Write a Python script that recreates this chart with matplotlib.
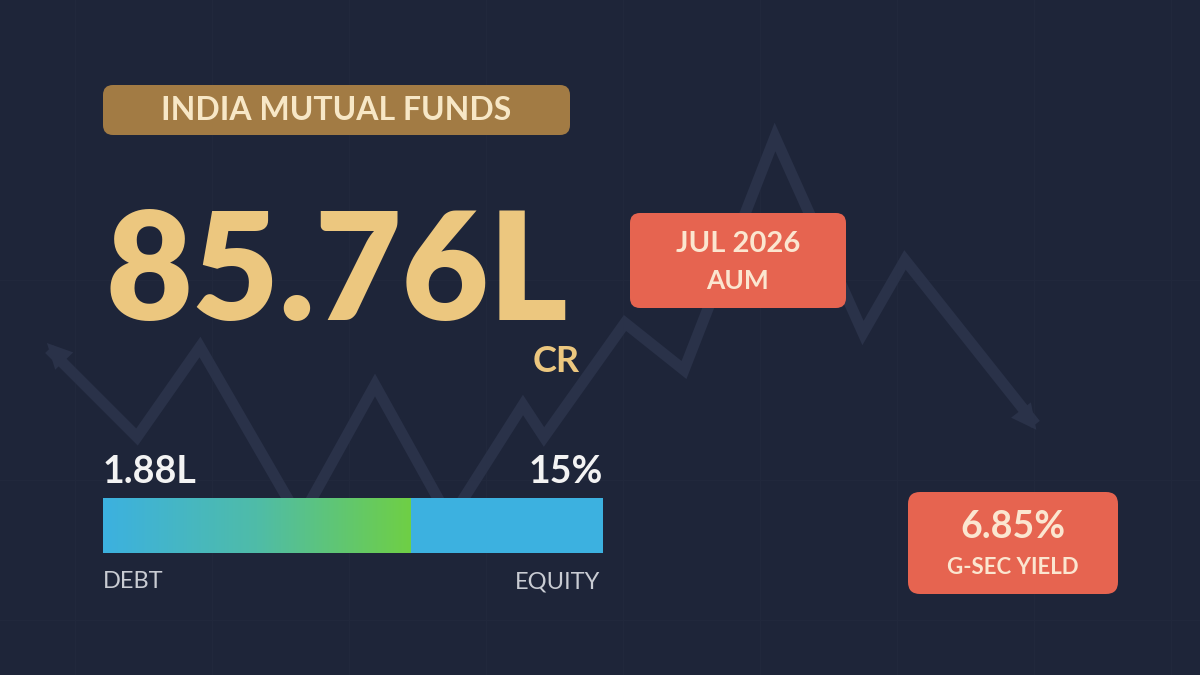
import matplotlib
matplotlib.use("Agg")
import matplotlib.pyplot as plt
import numpy as np
from matplotlib.patches import FancyBboxPatch, Rectangle
from matplotlib.colors import LinearSegmentedColormap

title = "INDIA MUTUAL FUNDS"
headline = "85.76L"
unit = "CR"
badge1 = ["JUL 2026", "AUM"]
left_val, right_val = "1.88L", "15%"
bar_labels = ["DEBT", "EQUITY"]
debt_share = 0.615
badge2 = ["6.85%", "G-SEC YIELD"]
bg_x = [53, 137, 200, 300, 375, 450, 523, 544, 625, 684, 775, 863, 905, 1032]
bg_y = [353, 437, 347, 520, 385, 520, 405, 437, 323, 370, 137, 333, 260, 420]

BG = "#1e2539"
fig = plt.figure(figsize=(12, 6.75), dpi=100)
fig.patch.set_facecolor(BG)
ax = fig.add_axes([0, 0, 1, 1])
ax.set_xlim(0, 1200); ax.set_ylim(675, 0); ax.axis("off")
ax.set_facecolor(BG)

for gx in range(75, 1200, 137):
    ax.plot([gx, gx], [0, 675], color="#21283c", lw=1, zorder=0)
for gy in [280, 480, 620]:
    ax.plot([0, 1200], [gy, gy], color="#21283c", lw=1, zorder=0)

ax.plot(bg_x, bg_y, color="#2a3249", lw=8, solid_joinstyle="miter", zorder=1)
ax.annotate("", xy=(bg_x[0] - 8, bg_y[0] - 12), xytext=(bg_x[1], bg_y[1]),
            arrowprops=dict(arrowstyle="-|>", color="#2a3249", lw=0, mutation_scale=45), zorder=1)
ax.annotate("", xy=(bg_x[-1] + 6, bg_y[-1] + 12), xytext=(bg_x[-2], bg_y[-2]),
            arrowprops=dict(arrowstyle="-|>", color="#2a3249", lw=0, mutation_scale=45), zorder=1)

FONT = ["Lato", "DejaVu Sans"]

ax.add_patch(FancyBboxPatch((103, 85), 467, 50, boxstyle="round,pad=0,rounding_size=10",
                            fc="#a27b44", ec="none", zorder=3))
ax.text(336, 111, title, color="#f7e7c6", fontsize=23, fontweight="bold",
        family=FONT, ha="center", va="center", zorder=4)

ax.text(106, 320, headline, color="#ecc77f", fontsize=108, fontweight="heavy",
        family=FONT, ha="left", va="baseline", zorder=4)
ax.text(580, 372, unit, color="#ecc77f", fontsize=26, fontweight="bold",
        family=FONT, ha="right", va="baseline", zorder=4)

ax.add_patch(FancyBboxPatch((630, 213), 216, 95, boxstyle="round,pad=0,rounding_size=10",
                            fc="#e66450", ec="none", zorder=3))
ax.text(738, 244, badge1[0], color="#fbe6d0", fontsize=21, fontweight="bold",
        family=FONT, ha="center", va="center", zorder=4)
ax.text(738, 281, badge1[1], color="#fbe6d0", fontsize=19, fontweight="bold",
        family=FONT, ha="center", va="center", zorder=4)

ax.text(103, 483, left_val, color="#f3f3f3", fontsize=27, fontweight="bold",
        family=FONT, ha="left", va="baseline", zorder=4)
ax.text(603, 483, right_val, color="#f3f3f3", fontsize=27, fontweight="bold",
        family=FONT, ha="right", va="baseline", zorder=4)
x0, x1, y0, y1 = 103, 603, 498, 553
ax.add_patch(Rectangle((x0, y0), x1 - x0, y1 - y0, fc="#3cb1e0", ec="none", zorder=3))
split = x0 + debt_share * (x1 - x0)
grad = np.linspace(0, 1, 256)[None, :]
cmap = LinearSegmentedColormap.from_list("g", ["#3cb1e0", "#4fbca8", "#6fcf45"])
ax.imshow(grad, cmap=cmap, extent=(x0, split, y1, y0), aspect="auto", zorder=3.5)
ax.set_xlim(0, 1200); ax.set_ylim(675, 0)
ax.text(103, 588, bar_labels[0], color="#c9ccd3", fontsize=17,
        family=FONT, ha="left", va="baseline", zorder=4)
ax.text(600, 588, bar_labels[1], color="#c9ccd3", fontsize=17,
        family=FONT, ha="right", va="baseline", zorder=4)

ax.add_patch(FancyBboxPatch((908, 492), 210, 102, boxstyle="round,pad=0,rounding_size=12",
                            fc="#e66450", ec="none", zorder=3))
ax.text(1013, 527, badge2[0], color="#fbe6d0", fontsize=27, fontweight="bold",
        family=FONT, ha="center", va="center", zorder=4)
ax.text(1013, 568, badge2[1], color="#fbe6d0", fontsize=16, fontweight="bold",
        family=FONT, ha="center", va="center", zorder=4)

fig.savefig("out.png", dpi=100, facecolor=BG)
